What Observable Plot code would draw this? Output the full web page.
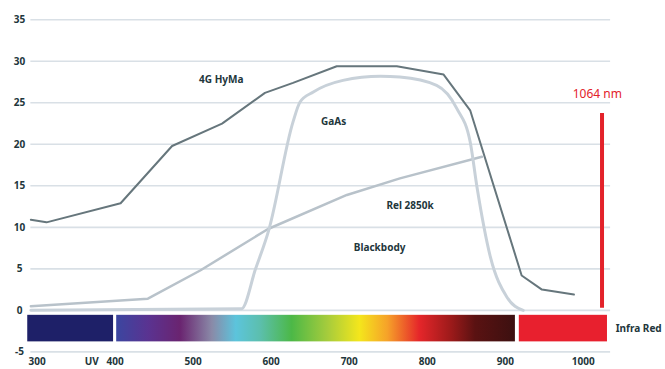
<!DOCTYPE html>
<html><head><meta charset="utf-8">
<script src="https://cdn.jsdelivr.net/npm/d3@7"></script>
<script src="https://cdn.jsdelivr.net/npm/@observablehq/plot@0.6"></script>
<style>html,body{margin:0;padding:0;background:#fff} svg{display:block}</style>
</head><body><div id="chart"></div>
<script>
// Series (wavelength nm, relative response)
const hymaNm  = [292, 312, 407, 473, 537, 592, 628, 684, 761, 821, 855, 921, 947, 988];
const hymaVal = [10.9, 10.6, 12.9, 19.8, 22.5, 26.2, 27.4, 29.4, 29.4, 28.4, 24.1, 4.2, 2.5, 1.9];
const gaasNm  = [292, 562, 580, 597, 628, 637, 654, 692, 740, 765, 812, 838, 855, 864, 881, 902, 923];
const gaasVal = [0, 0.2, 5.0, 9.7, 22.7, 25.1, 26.3, 27.7, 28.2, 28.1, 27.1, 24.3, 20.3, 14.7, 6.4, 1.6, 0];
const bbNm    = [292, 442, 509, 596, 697, 765, 870];
const bbVal   = [0.5, 1.4, 4.8, 9.8, 13.9, 15.9, 18.5];

// Axis ticks
const yTicks = [-5, 0, 5, 10, 15, 20, 25, 30, 35];
const xTickPos = [300, 370, 400, 500, 600, 700, 800, 900, 1000];
const xTickLabels = ["300", "UV", "400", "500", "600", "700", "800", "900", "1000"];

// Spectrum bands
const bandStart = [288, 402, 918];
const bandEnd   = [398, 913, 1031];
const bandFill  = ["#1e2068", "url(#spectrum)", "#e8202e"];
const specOffsets = [0, 0.08, 0.16, 0.24, 0.30, 0.36, 0.44, 0.53, 0.61, 0.68, 0.76, 0.84, 0.90, 1];
const specColors  = ["#3b46a0", "#5a3391", "#6a2470", "#8a8aa8", "#5cc4dc", "#5cbfae", "#4cb847", "#a6cc3c", "#f4e61c", "#f6a229", "#e5262a", "#9c1a1a", "#5a1212", "#3c1010"];

// Curve labels
const labelText = ["4G HyMa", "GaAs", "Rel 2850k", "Blackbody", "Infra Red"];
const labelNm   = [536, 680, 778, 739, 1071];
const labelVal  = [27.8, 22.7, 12.65, 7.5, -2.2];

// Laser marker
const laserNm = 1024;
const laserTop = 23.7;
const laserBottom = 0.25;
const laserLabel = "1064 nm";

const series = (nm, val) => nm.map((n, i) => ({x: n, y: val[i]}));
const bands = bandStart.map((s, i) => ({x1: s, x2: bandEnd[i], fill: bandFill[i]}));
const labels = labelText.map((t, i) => ({t, x: labelNm[i], y: labelVal[i]}));
const xt = xTickPos.map((p, i) => ({x: p, t: xTickLabels[i]}));

const svg = Plot.plot({
  width: 665, height: 369,
  marginLeft: 21, marginRight: 51, marginTop: 11, marginBottom: 16,
  x: {domain: [280, 1040], axis: null},
  y: {domain: [-5.2, 36], axis: null},
  style: {fontFamily: "'Noto Sans', sans-serif", fontSize: "10px", background: "#fff"},
  marks: [
    Plot.ruleY(yTicks, {x1: 292, x2: 1035, stroke: "#d9e0e6", strokeWidth: 1.6}),
    Plot.rectY(bands, {x1: "x1", x2: "x2", y1: -0.6, y2: -3.8, fill: d => d.fill}),
    Plot.line(series(bbNm, bbVal), {x: "x", y: "y", stroke: "#b8c2ca", strokeWidth: 2.5}),
    Plot.line(series(gaasNm, gaasVal), {x: "x", y: "y", stroke: "#c8d1d9", strokeWidth: 3, curve: "monotone-x"}),
    Plot.line(series(hymaNm, hymaVal), {x: "x", y: "y", stroke: "#66767c", strokeWidth: 2}),
    Plot.ruleX([laserNm], {y1: laserBottom, y2: laserTop, stroke: "#e3222a", strokeWidth: 4}),
    Plot.text([laserLabel], {x: laserNm - 6, y: 26, text: d => d, fill: "#e3222a", fontSize: 12}),
    Plot.text(labels, {x: "x", y: "y", text: "t", fontWeight: "bold", fill: "#22363b", fontSize: 10}),
    Plot.text(yTicks, {frameAnchor: "left", y: d => d, text: d => String(d), dx: -2, textAnchor: "middle", fontWeight: "bold", fill: "#22363b", fontSize: 10}),
    Plot.text(xt, {x: "x", y: -5.2, dy: 8, text: "t", fontWeight: "bold", fill: "#22363b", fontSize: 10})
  ]
});

const defs = d3.select(svg).insert("defs", ":first-child");
const grad = defs.append("linearGradient").attr("id", "spectrum").attr("x1", "0").attr("x2", "1").attr("y1", "0").attr("y2", "0");
specOffsets.forEach((o, i) => grad.append("stop").attr("offset", o).attr("stop-color", specColors[i]));

document.getElementById("chart").appendChild(svg);
</script>
</body></html>
